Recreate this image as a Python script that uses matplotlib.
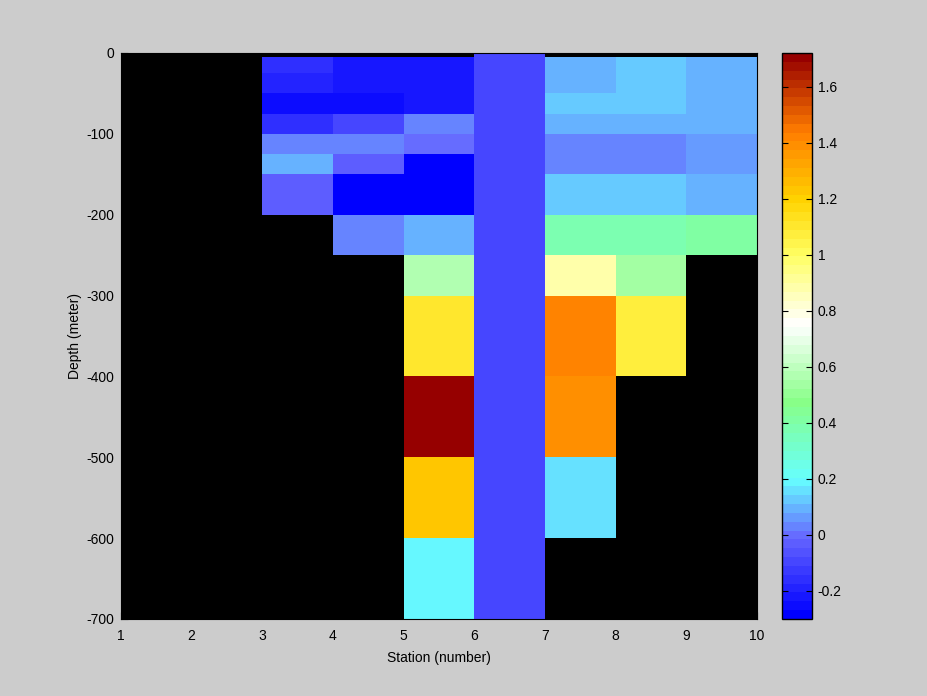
import numpy as np
import matplotlib
matplotlib.use("Agg")
import matplotlib.pyplot as plt
from matplotlib.colors import LinearSegmentedColormap, Normalize

plt.rcParams['font.family'] = ['Liberation Sans', 'DejaVu Sans']
plt.rcParams['axes.unicode_minus'] = False

# ---- data ----
stations = [1, 2, 3, 4, 5, 6, 7, 8, 9, 10]          # x edges
depths = [0, -5, -25, -50, -75, -100, -125, -150, -200, -250,
          -300, -400, -500, -600, -700]              # y edges
nan = np.nan
# one list per station column (value of each depth layer, top to bottom)
st1 = [nan] * 14
st2 = [nan] * 14
st3 = [nan, -0.158, -0.189, -0.240, -0.158, 0.031, 0.094, -0.032, nan, nan, nan, nan, nan, nan]
st4 = [nan, -0.221, -0.221, -0.253, -0.110, 0.020, -0.040, -0.290, 0.020, nan, nan, nan, nan, nan]
st5 = [nan, -0.221, -0.221, -0.221, 0.031, 0.000, -0.290, -0.290, 0.094, 0.575, 1.10, 1.72, 1.22, 0.189]
st6 = [-0.110] * 14
st7 = [nan, 0.094, 0.094, 0.126, 0.094, 0.031, 0.031, 0.126, 0.37, 0.87, 1.42, 1.39, 0.158, nan]
st8 = [nan, 0.126, 0.126, 0.126, 0.094, 0.031, 0.031, 0.126, 0.37, 0.54, 1.06, nan, nan, nan]
st9 = [nan, 0.094, 0.094, 0.094, 0.094, 0.063, 0.063, 0.094, 0.41, nan, nan, nan, nan, nan]
clim = (-0.3, 1.72)
xticks = [1, 2, 3, 4, 5, 6, 7, 8, 9, 10]
yticks = [0, -100, -200, -300, -400, -500, -600, -700]
cticks = [-0.2, 0, 0.2, 0.4, 0.6, 0.8, 1, 1.2, 1.4, 1.6]
cticklabels = ['-0.2', '0', '0.2', '0.4', '0.6', '0.8', '1', '1.2', '1.4', '1.6']

values = np.array([st1, st2, st3, st4, st5, st6, st7, st8, st9]).T
values = np.ma.masked_invalid(values)

# ---- colormap ----
anchors_v = [-0.3, -0.02, 0.19, 0.47, 0.75, 1.0, 1.2, 1.45, 1.72]
anchors_c = [(0, 0, 255), (102, 102, 255), (102, 255, 255), (136, 255, 136),
             (255, 255, 255), (255, 255, 100), (255, 212, 0), (255, 125, 0),
             (150, 0, 0)]
pos = [(v - clim[0]) / (clim[1] - clim[0]) for v in anchors_v]
cmap = LinearSegmentedColormap.from_list(
    'custom', list(zip(pos, [tuple(c / 255 for c in col) for col in anchors_c])), N=64)
norm = Normalize(vmin=clim[0], vmax=clim[1])

bg = '#cccccc'
fs = 10
fig = plt.figure(figsize=(9.28, 6.96), dpi=100, facecolor=bg)
ax = fig.add_axes([121 / 928, 1 - 619 / 696, 636 / 928, 566 / 696])
ax.set_facecolor('black')
ax.set_axisbelow(True)
mesh = ax.pcolormesh(stations, depths, values, cmap=cmap, norm=norm, shading='flat',
                     edgecolors='none', antialiased=False)
ax.set_xlim(1, 10)
ax.set_ylim(-700, 0)
ax.set_xticks(xticks)
ax.set_yticks(yticks)
ax.set_yticklabels([str(t) for t in yticks])
ax.tick_params(direction='in', length=5, labelsize=fs, colors='black', pad=5)
ax.tick_params(axis='x', pad=7)
ax.set_xlabel('Station (number)', fontsize=fs, labelpad=6)
ax.set_ylabel('Depth (meter)', fontsize=fs, labelpad=3)
for s in ax.spines.values():
    s.set_color('black')

cax = fig.add_axes([782 / 928, 1 - 619 / 696, 30 / 928, 566 / 696])
cb = fig.colorbar(mesh, cax=cax, ticks=cticks)
cb.ax.set_yticklabels(cticklabels)
cb.outline.set_edgecolor('black')
cb.outline.set_linewidth(1.0)
cax.tick_params(direction='in', length=4, labelsize=fs, left=True, right=True, pad=4)

fig.savefig('out.png', dpi=100, facecolor=bg)
